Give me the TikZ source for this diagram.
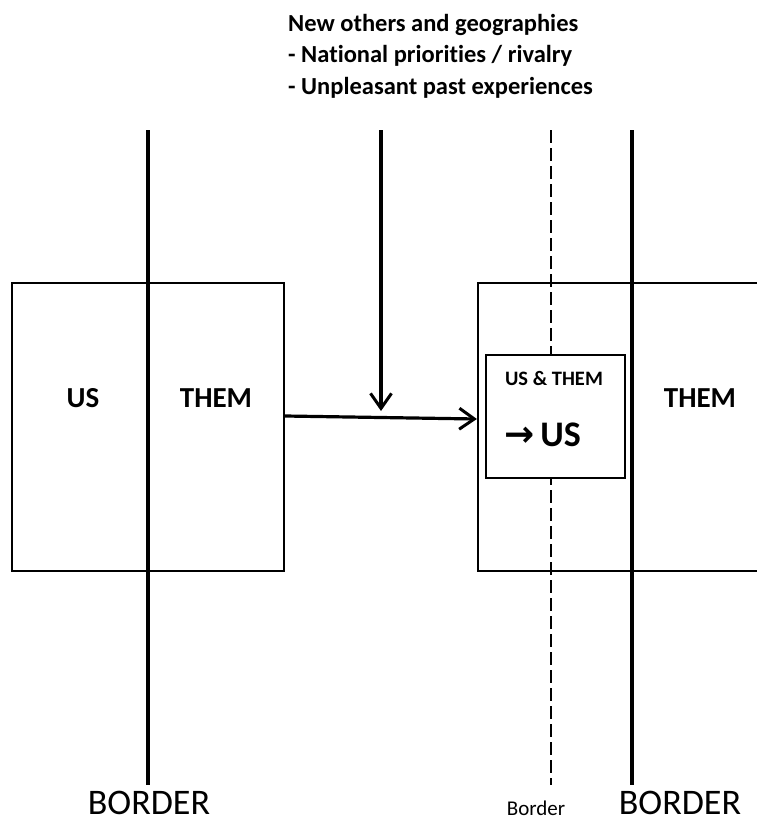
\documentclass[tikz,border=0pt]{standalone}
\usepackage{fontspec}
\setmainfont{Carlito}[RawFeature={-liga;-clig;-dlig}]
\newfontfamily\arrowfont{DejaVu Sans}
\usetikzlibrary{arrows.meta}
% break the t-i ligature of the font
\newcommand{\tI}{t\kern0pt i}
\begin{document}
\begin{tikzpicture}[x=1pt,y=-1pt,
  borderline/.style={line width=3.5pt},
  frame/.style={draw,line width=2.2pt,inner sep=0pt},
  barb/.style={-{Straight Barb[length=15pt,width=21pt,line width=3pt]}},
  bigword/.style={font=\bfseries\fontsize{29}{32}\selectfont},
  borderword/.style={font=\fontsize{36}{39}\selectfont,anchor=base,inner sep=0pt,text depth=0pt}]
\useasboundingbox (0,0) rectangle (757,822);
% border lines
\coordinate (lt) at (148,130); \coordinate (lb) at (148,785);
\coordinate (dt) at (551,130); \coordinate (db) at (551,785);
\coordinate (rt) at (632,130); \coordinate (rb) at (632,785);
\draw[borderline] (lt) -- (lb);
\draw[borderline] (rt) -- (rb);
\draw[line width=2.2pt,dash pattern=on 13pt off 5pt] (dt) -- (db);
% territories
\node[frame,minimum width=272pt,minimum height=288pt] (left) at (148,427) {};
\node[frame,minimum width=320pt,minimum height=288pt] (right) at (638,427) {};
\node[bigword] (us) at (83,398) {US};
\node[bigword] (them1) at (216,398) {THEM};
\node[bigword] (them2) at (700,398) {THEM};
% merged zone
\node[draw,line width=1.3pt,fill=white,minimum width=139pt,minimum height=123pt] (mix) at (555.5,416.5) {};
\node[font=\bfseries\fontsize{20.5}{22}\selectfont] (ust) at (554,378) {US \& THEM};
\node[font=\bfseries\fontsize{36}{38}\selectfont] (tous) at (542.5,435) {{\arrowfont\bfseries\fontsize{36}{38}\selectfont→}\,US};
% transformation arrows
\coordinate (src) at (381,130);
\coordinate (hit) at (381,411);
\draw[barb,line width=3.2pt] (src) -- (hit);
\draw[barb,line width=3.2pt] (left.east |- 0,416) -- (right.west |- 0,419);
% influences
\node[anchor=base west,align=left,inner sep=0pt,font=\bfseries\fontsize{24.5}{31.5}\selectfont] (infl) at (288,94)
  {New others and geographies\\- Na\tI onal priori\tI es / rivalry\\- Unpleasant past experiences};
% labels
\node[borderword] (b1) at (149,814) {BORDER};
\node[borderword] (b2) at (680,814) {BORDER};
\node[font=\fontsize{21}{23}\selectfont,anchor=base,inner sep=0pt,text depth=0pt] (b3) at (536,815) {Border};
\end{tikzpicture}
\end{document}
